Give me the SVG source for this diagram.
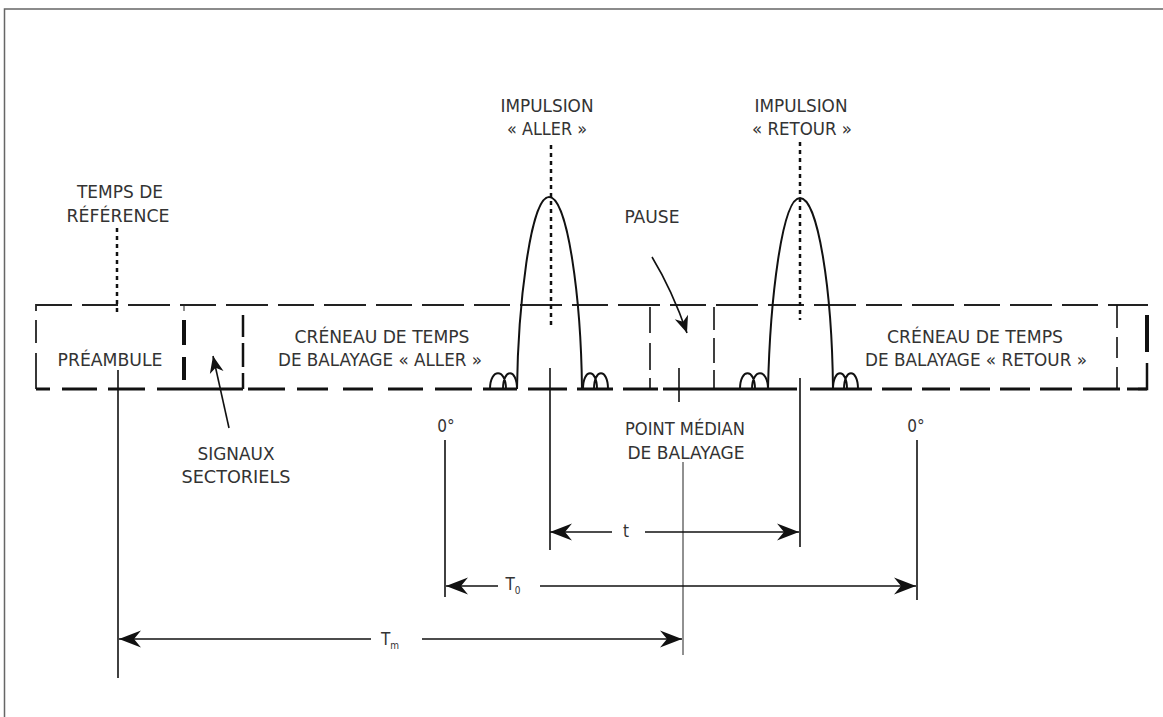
<svg xmlns="http://www.w3.org/2000/svg" width="1163" height="717" viewBox="0 0 1163 717">
<style>
.txt{font-family:"Liberation Sans Narrow","DejaVu Sans Condensed","Liberation Sans",sans-serif;font-size:17px;fill:#333;text-anchor:middle}
.ln{stroke:#111;fill:none;stroke-width:1.6}
.thin{stroke:#222;fill:none;stroke-width:1}
.dot{stroke:#111;fill:none;stroke-width:2.5;stroke-dasharray:4 4}
.top{stroke:#222;fill:none;stroke-width:1.8}
.bot{stroke:#111;fill:none;stroke-width:3}
.thick{stroke:#111;fill:none;stroke-width:4}
.mid{stroke:#111;fill:none;stroke-width:2.5}
.pulse{stroke:#111;fill:none;stroke-width:2}
</style>
<defs>
<marker id="ah" viewBox="-24 -10 25 20" refX="0" refY="0" markerWidth="25" markerHeight="20" markerUnits="userSpaceOnUse" orient="auto-start-reverse"><path d="M0,0 L-22,-8.5 L-15,0 L-22,8.5 Z" fill="#111"/></marker>
<marker id="ahs" viewBox="-18 -8 19 16" refX="0" refY="0" markerWidth="19" markerHeight="16" markerUnits="userSpaceOnUse" orient="auto"><path d="M0,0 L-17,-7 L-12,0 L-17,7 Z" fill="#111"/></marker>
</defs>
<rect width="1163" height="717" fill="#fff"/>
<g id="frame">
<path d="M4.5,717 V9 H1163" stroke="#666" stroke-width="1.5" fill="none"/>
</g>
<g id="slot-box">
<path class="top" d="M36,311 V305 H1148" stroke-dasharray="42 10 36 10"/>
<path class="top" d="M36,320 V343 M36,353 V389"/>
<path class="bot" d="M36,389 H50 M62,389 H97 M108,389 H145 M157,389 H243 M248,389 H285 M297,389 H328 M343,389 H373 M388,389 H423 M435,389 H472 M483,389 H517 M528,389 H567 M577,389 H613 M623,389 H658 M663,389 H797 M810,389 H872 M882,389 H912 M922,389 H950 M960,389 H990 M1000,389 H1030 M1040,389 H1072 M1083,389 H1120 M1127,389 H1147"/>
<path class="thin" d="M184,305 V311"/>
<path class="thick" d="M184,320 V345 M184,357 V380"/>
<path class="mid" d="M243,315 V337 M243,343 V367 M243,373 V389"/>
<path class="ln" d="M650,307 V333 M650,343 V370 M650,378 V389 M714,307 V330 M714,338 V363 M714,370 V389"/>
<path class="ln" d="M1117,305 V328 M1117,337 V358 M1117,367 V389"/>
<path class="thick" d="M1147,315 V352"/>
<path class="mid" d="M1147,363 V389 H1138"/>
</g>
<g id="pulse-aller">
<path class="pulse" d="M517,389 C518,310 530,197 549,197 C568,197 581,300 582,389"/>
<path class="pulse" d="M490,389 C490,368 506,368 506,389 M503,389 C503,368 517,368 517,389"/>
<path class="pulse" d="M583,389 C583,368 597,368 597,389 M594,389 C594,368 608,368 608,389"/>
<path class="dot" d="M551,145 V327"/>
</g>
<g id="pulse-retour">
<path class="pulse" d="M768,389 C770,300 782,198 800,198 C818,198 832,290 833,389"/>
<path class="pulse" d="M740,389 C740,368 755,368 755,389 M752,389 C752,368 768,368 768,389"/>
<path class="pulse" d="M833,389 C833,368 847,368 847,389 M844,389 C844,368 858,368 858,389"/>
<path class="dot" d="M800,142 V320"/>
</g>
<g id="ref-time">
<path class="dot" d="M117,228 V315"/>
<text class="txt" x="120" y="198" textLength="86" lengthAdjust="spacingAndGlyphs">TEMPS DE</text>
<text class="txt" x="118" y="222" textLength="103" lengthAdjust="spacingAndGlyphs">RÉFÉRENCE</text>
</g>
<g id="preambule">
<text class="txt" x="110" y="366" textLength="105" lengthAdjust="spacingAndGlyphs">PRÉAMBULE</text>
</g>
<g id="creneau-aller">
<text class="txt" x="382" y="343" textLength="175" lengthAdjust="spacingAndGlyphs">CRÉNEAU DE TEMPS</text>
<text class="txt" x="380" y="366" textLength="204" lengthAdjust="spacingAndGlyphs">DE BALAYAGE « ALLER »</text>
</g>
<g id="impulsion-aller">
<text class="txt" x="547" y="112" textLength="93" lengthAdjust="spacingAndGlyphs">IMPULSION</text>
<text class="txt" x="547" y="135" textLength="80" lengthAdjust="spacingAndGlyphs">« ALLER »</text>
</g>
<g id="impulsion-retour">
<text class="txt" x="801" y="112" textLength="93" lengthAdjust="spacingAndGlyphs">IMPULSION</text>
<text class="txt" x="802" y="135" textLength="100" lengthAdjust="spacingAndGlyphs">« RETOUR »</text>
</g>
<g id="pause">
<text class="txt" x="652" y="223" textLength="55" lengthAdjust="spacingAndGlyphs">PAUSE</text>
</g>
<g id="creneau-retour">
<text class="txt" x="975" y="343" textLength="176" lengthAdjust="spacingAndGlyphs">CRÉNEAU DE TEMPS</text>
<text class="txt" x="976" y="366" textLength="222" lengthAdjust="spacingAndGlyphs">DE BALAYAGE « RETOUR »</text>
</g>
<g id="signaux">
<text class="txt" x="236" y="460" textLength="77" lengthAdjust="spacingAndGlyphs">SIGNAUX</text>
<text class="txt" x="236" y="483" textLength="109" lengthAdjust="spacingAndGlyphs">SECTORIELS</text>
</g>
<g id="zero-left"><text class="txt" x="446" y="432">0°</text></g>
<g id="point-median">
<text class="txt" x="685" y="435" textLength="120" lengthAdjust="spacingAndGlyphs">POINT MÉDIAN</text>
<text class="txt" x="686" y="459" textLength="117" lengthAdjust="spacingAndGlyphs">DE BALAYAGE</text>
</g>
<g id="zero-right"><text class="txt" x="916" y="432">0°</text></g>
<g id="connectors">
<path class="ln" d="M118,370 V678"/>
<path class="ln" d="M550,368 V550"/>
<path class="ln" d="M679,368 V402"/>
<path class="thin" d="M683,462 V655"/>
<path class="ln" d="M800,378 V547"/>
<path class="ln" d="M445,440 V597"/>
<path class="ln" d="M917,440 V600"/>
<line class="ln" x1="550" y1="532" x2="612" y2="532" marker-start="url(#ah)"/>
<line class="ln" x1="645" y1="532" x2="799" y2="532" marker-end="url(#ah)"/>
<line class="ln" x1="446" y1="586" x2="498" y2="586" marker-start="url(#ah)"/>
<line class="ln" x1="540" y1="586" x2="916" y2="586" marker-end="url(#ah)"/>
<line class="ln" x1="119" y1="639" x2="371" y2="639" marker-start="url(#ah)"/>
<line class="ln" x1="422" y1="639" x2="682" y2="639" marker-end="url(#ah)"/>
<path class="ln" d="M229,428 L213,356" marker-end="url(#ahs)"/>
<path class="ln" d="M652,257 Q672,290 687,333" marker-end="url(#ahs)"/>
<text class="txt" x="626" y="537">t</text>
<text class="txt" x="513" y="590">T<tspan font-size="10" dy="4">0</tspan></text>
<text class="txt" x="390" y="645">T<tspan font-size="10" dy="4">m</tspan></text>
</g>
</svg>
